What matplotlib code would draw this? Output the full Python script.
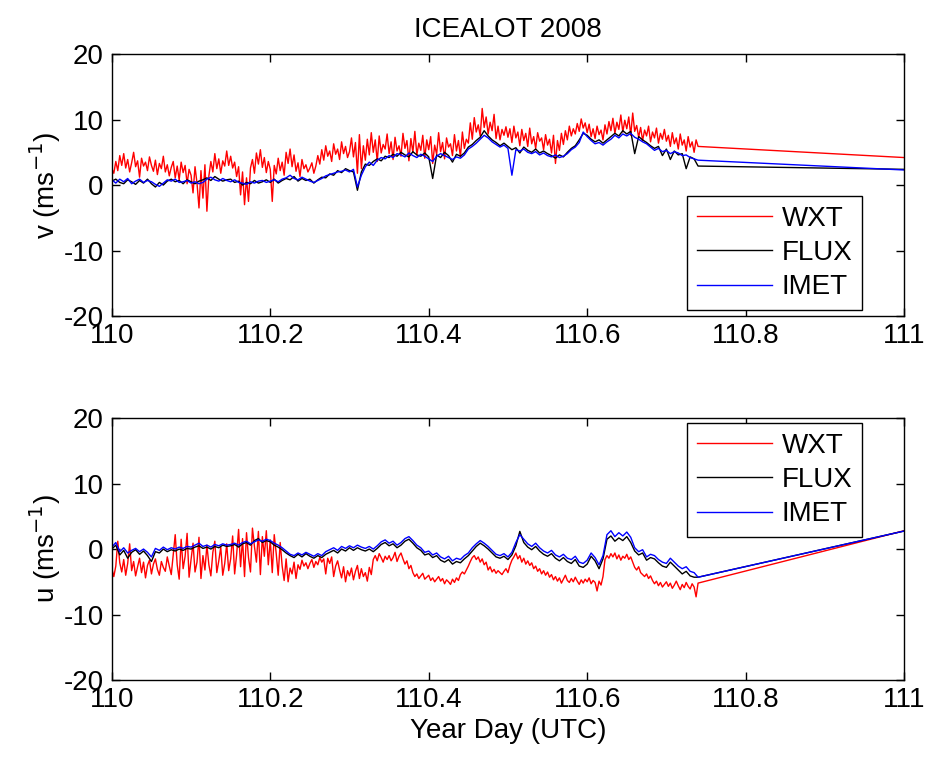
import numpy as np
import matplotlib
matplotlib.use("Agg")
import matplotlib.pyplot as plt

plt.rcParams['font.family'] = ['Liberation Sans', 'DejaVu Sans']
plt.rcParams['axes.unicode_minus'] = False

# time range of the measured record (year day), the record ends at 110.74
t_start = 110.0
t_end = 110.74
t_last = 111.0

# ---- upper panel: v (m/s) ----
v_wxt = [
    2.5, 1.8, 3.6, 2.2, 4.5, 3.0, 4.8, 2.6, 3.9, 2.0, 3.4, 5.0, 2.8, 3.7, 1.2, 4.1, 2.9, 3.5, 2.2, 4.3,
    3.0, 2.1, 3.8, 1.6, 3.3, 2.5, 4.4, 2.0, 3.1, 1.4, 2.7, 3.6, 1.1, 2.9, 0.8, 3.5, 1.9, 3.0, 0.2, 2.4,
    1.5, -1.2, 2.8, 0.3, -3.5, 2.2, -2.0, 3.1, -4.0, 1.4, 3.6, 2.0, 4.8, 2.5, 4.0, 1.8, 3.7, 2.9, 5.2, 3.0,
    4.4, 2.6, 3.5, 1.3, 2.8, -1.5, 2.0, -3.0, 1.1, -2.5, 2.6, 3.9, 1.8, 4.9, 3.2, 5.4, 2.7, 4.2, 1.9, 3.6,
    2.4, -2.5, 3.0, 1.7, 4.1, 2.2, 3.5, 1.5, 5.0, 3.3, 5.5, 2.8, 4.6, 2.1, 3.4, 1.3, 3.9, 2.5, 3.1, 2.0,
    2.6, 3.4, 1.8, 2.9, 4.5, 3.2, 5.4, 3.8, 6.0, 4.4, 5.2, 3.6, 6.3, 4.7, 5.5, 3.9, 6.6, 4.8, 5.9, 4.2,
    5.1, 7.2, 4.3, 6.5, 1.8, 7.7, 2.5, 6.0, 3.8, 7.0, 4.6, 8.0, 5.0, 6.9, 3.6, 7.5, 4.9, 6.2, 5.5, 7.8,
    4.8, 6.6, 3.9, 7.3, 5.2, 6.0, 4.4, 7.9, 5.6, 6.8, 3.7, 7.1, 5.0, 8.2, 4.6, 6.4, 5.3, 7.6, 4.1, 6.9,
    5.4, 7.4, 3.3, 6.1, 4.7, 8.0, 5.1, 6.5, 4.0, 7.2, 5.8, 6.3, 4.5, 7.7, 5.2, 6.8, 4.3, 8.1, 5.6, 7.0,
    6.4, 9.5, 7.0, 10.3, 8.1, 9.2, 7.5, 11.7, 8.8, 10.4, 7.8, 9.6, 8.3, 10.8, 7.1, 9.0, 6.9, 8.5, 7.6, 8.9,
    7.3, 8.6, 6.5, 9.0, 7.2, 8.1, 6.0, 8.5, 6.8, 7.9, 5.9, 8.7, 6.3, 7.4, 5.6, 8.0, 6.7, 7.2, 5.4, 7.7,
    6.1, 7.0, 4.9, 7.6, 3.3, 6.8, 5.3, 7.9, 6.2, 8.3, 6.9, 9.0, 7.5, 8.6, 7.8, 9.4, 8.2, 10.1, 8.7, 9.5,
    8.0, 9.3, 7.4, 8.6, 7.1, 9.0, 7.7, 8.4, 6.9, 9.2, 7.8, 9.7, 8.3, 10.2, 7.9, 9.6, 8.5, 10.7, 8.1, 9.9,
    8.6, 10.4, 7.6, 11.0, 8.2, 9.1, 7.3, 8.8, 6.8, 8.4, 7.5, 9.0, 6.6, 8.1, 7.2, 8.7, 6.4, 7.9, 7.0, 8.5,
    6.7, 7.6, 5.9, 8.0, 6.3, 7.2, 5.5, 7.8, 6.1, 6.9, 5.2, 7.4, 5.8, 6.6, 5.0, 6.9, 5.9,
]
v_flux = [
    0.6, 0.9, 0.4, 0.2, 0.8, 0.5, 0.1, 0.7, 0.3, 0.9,
    0.2, -0.3, 0.4, 0.0, 0.6, 0.9, 0.5, 0.7, 0.2, 0.8,
    0.5, 0.2, 0.6, 0.8, 1.1, 0.7, 1.3, 0.9, 0.6, 0.8,
    0.9, 0.4, 0.6, 0.0, 0.4, 0.2, 0.7, 0.3, 0.5, 0.8,
    0.4, 0.9, 0.3, 0.7, 1.0, 0.8, 1.3, 0.6, 1.0, 0.7,
    0.9, 0.3, 0.8, 1.2, 1.1, 1.7, 1.5, 2.2, 1.9, 2.5,
    2.2, 2.0, -0.8, 2.0, 3.2, 3.0, 3.6, 4.0, 3.7, 4.4,
    4.2, 4.7, 4.4, 5.0, 4.6, 4.3, 5.1, 4.6, 4.4, 4.9,
    4.3, 1.0, 4.6, 4.2, 5.0, 4.5, 3.5, 4.7, 4.4, 4.9,
    5.8, 6.2, 6.8, 7.3, 8.3, 7.5, 6.9, 6.5, 6.0, 6.4,
    5.9, 5.4, 5.7, 4.9, 5.8, 5.3, 5.0, 5.5, 4.9, 5.2,
    4.8, 4.5, 4.1, 4.6, 4.3, 5.0, 5.6, 6.0, 6.9, 7.9,
    7.6, 7.0, 6.6, 6.9, 6.4, 6.9, 7.4, 7.9, 7.5, 8.3,
    7.8, 8.2, 4.8, 7.4, 6.9, 6.5, 6.0, 5.6, 5.9, 4.5,
    5.5, 3.9, 5.2, 4.6, 4.8, 2.5, 4.3, 4.0, 2.9,
]
v_imet = [
    0.8, 0.3, 0.9, 0.5, 1.0, 0.2, 0.6, 0.9, 0.4, 0.7,
    0.5, 0.1, -0.2, 0.3, 0.8, 0.6, 0.9, 0.4, 0.5, 0.7,
    0.3, 0.5, 0.2, 0.4, 0.9, 1.2, 0.8, 0.6, 1.0, 0.7,
    0.5, 0.8, 0.4, 0.3, 0.1, 0.5, 0.3, 0.6, 0.7, 0.4,
    0.6, 0.8, 0.5, 0.9, 1.1, 1.5, 1.0, 0.8, 1.2, 0.9,
    0.6, 0.4, 0.7, 1.0, 1.4, 1.6, 1.8, 2.0, 2.1, 2.3,
    2.0, 2.4, -0.3, 1.5, 2.8, 3.5, 3.0, 3.8, 4.2, 4.0,
    4.5, 4.2, 4.8, 4.6, 4.3, 4.9, 4.5, 4.2, 4.7, 4.4,
    4.0, 3.6, 4.4, 4.8, 4.5, 4.2, 3.9, 4.3, 4.1, 4.6,
    5.5, 5.9, 6.4, 7.0, 7.6, 7.2, 6.6, 6.2, 5.8, 6.1,
    5.6, 1.5, 5.4, 5.2, 5.5, 5.0, 4.8, 5.1, 4.6, 4.9,
    4.5, 4.3, 4.6, 4.2, 4.4, 4.8, 5.4, 5.8, 6.5, 8.1,
    7.4, 6.8, 6.3, 6.5, 6.1, 6.6, 7.0, 7.6, 7.2, 7.8,
    7.5, 7.9, 7.3, 7.0, 6.6, 6.3, 5.8, 5.3, 5.6, 5.1,
    5.3, 4.8, 5.1, 4.9, 4.5, 4.6, 4.2, 4.0, 3.8,
]
# last samples at day 111
v_end = {'WXT': 4.2, 'FLUX': 2.4, 'IMET': 2.3}

# ---- lower panel: u (m/s) ----
u_wxt = [
    -3.0, -4.2, -2.6, 1.2, -2.1, -3.5, -1.6, -4.0, -2.2, 0.8, -3.3, -1.9, -4.1, -2.7, -1.4, -3.6, -2.0, -4.4, -2.5, -1.7,
    -3.8, -2.3, -1.5, -3.1, -4.0, -1.9, -2.8, -3.4, -1.2, -2.6, -3.9, -0.8, 2.2, -2.4, -4.6, 1.5, -3.0, -1.1, 2.4, -4.3,
    -1.6, 0.9, -3.5, -2.0, 1.8, -4.5, -1.0, -3.2, 0.6, -2.4, -4.1, -0.5, 1.2, -3.6, -1.8, 0.3, -4.0, -2.2, 0.8, -3.3,
    -1.5, 2.0, -3.8, -0.9, 3.0, -2.7, 1.6, -4.2, 2.5, -1.3, -3.5, 3.2, 0.4, -2.0, 2.7, -3.9, 1.9, -1.1, 2.8, -2.4,
    1.4, -3.6, 2.2, -0.7, -4.0, 1.0, -2.6, -4.8, -1.5, -5.0, -2.9, -3.8, -2.0, -4.5, -2.4, -3.1, -1.7, -2.6, -2.1, -3.0,
    -2.2, -1.6, -2.8, -1.9, -2.4, -1.3, -2.0, -1.5, -3.8, -1.4, -2.2, -1.2, -4.2, -2.6, -1.8, -3.2, -4.4, -2.7, -5.0, -3.3,
    -4.1, -2.9, -4.7, -3.4, -2.5, -4.5, -3.0, -4.2, -3.6, -4.9, -2.8, -3.9, -1.6, -1.0, -1.8, -0.7, -1.3, -2.0, -1.1, -1.6,
    -1.0, -1.8, -1.3, -0.5, -1.9, -1.1, -0.6, -1.5, -2.3, -1.8, -3.0, -2.5, -3.6, -4.2, -3.8, -4.5, -4.1, -3.7, -4.6, -4.3,
    -4.0, -4.8, -4.4, -5.0, -4.6, -4.2, -4.9, -4.5, -5.3, -4.7, -5.0, -5.4, -4.6, -5.1, -4.4, -4.8, -3.9, -3.5, -3.8, -3.2,
    -2.6, -1.9, -1.3, -1.0, -1.6, -1.2, -2.0, -1.5, -2.4, -2.0, -3.2, -2.7, -3.5, -3.1, -3.7, -3.3, -3.6, -3.9, -3.4, -3.0,
    -3.6, -2.5, -1.7, -1.2, -0.6, -1.5, -1.0, -2.0, -1.4, -2.3, -1.8, -2.5, -2.1, -3.0, -2.6, -3.4, -3.0, -3.8, -3.3, -4.0,
    -3.5, -4.3, -3.9, -4.7, -4.2, -4.9, -4.4, -5.2, -4.6, -4.0, -4.8, -5.1, -4.5, -5.0, -4.3, -4.9, -5.4, -4.7, -5.2, -4.6,
    -5.0, -4.4, -5.3, -4.8, -5.1, -6.4, -4.9, -5.5, -4.2, -1.6, -1.0, -1.4, -0.7, -1.2, -0.6, -1.5, -0.9, -1.7, -1.1, -1.4,
    -0.8, -1.6, -1.2, -2.0, -2.8, -3.2, -2.7, -3.6, -3.9, -4.2, -3.8, -4.5, -4.1, -4.8, -5.3, -4.9, -5.6, -5.1, -5.8, -5.4,
    -5.0, -5.7, -5.2, -6.0, -5.5, -4.9, -5.6, -6.2, -5.4, -5.9, -5.1, -5.7, -6.1, -5.3, -5.8, -7.3, -5.2,
]
u_flux = [
    0.0, 0.6, -0.9, -0.2, -1.4, -0.5, -0.1, -0.8, -0.3, -1.0,
    -1.9, -0.4, -0.6, 0.0, -0.4, -0.1, -0.3, 0.0, -0.2, 0.1,
    0.0, 0.3, 0.5, 0.1, 0.3, 0.0, 0.4, 0.2, 0.6, 0.4,
    0.5, 0.7, 0.3, 0.8, 1.0, 0.6, 1.3, 1.6, 1.0, 1.3,
    1.1, 0.6, 0.3, -0.1, -0.6, -1.0, -1.3, -0.8, -1.2, -0.7,
    -1.1, -1.4, -1.0, -1.3, -0.8, -0.5, -0.2, -0.6, 0.0, -0.3,
    0.2, -0.2, 0.2, -0.1, -0.3, 0.0, -0.4, 0.1, 0.7, 1.0,
    0.5, 0.8, 0.2, 0.6, 1.2, 1.5, 0.9, 0.2, -0.2, -0.9,
    -0.7, -1.3, -1.0, -1.7, -2.0, -1.6, -2.3, -1.9, -2.1, -1.5,
    -1.0, -0.3, 0.4, 0.9, 0.5, 0.0, -0.6, -1.2, -1.4, -1.1,
    -1.6, -0.9, 0.5, 2.7, 1.0, 0.3, -0.1, 0.4, -0.3, -0.8,
    -1.1, -0.7, -1.4, -1.8, -1.3, -1.9, -2.2, -1.6, -2.6, -2.8,
    -2.3, -1.1, -1.8, -3.0, -1.5, 1.5, 2.0, 1.2, 1.7, 1.3,
    1.9, 1.0, -0.3, -0.9, -0.6, -1.7, -1.3, -1.5, -2.1, -2.6,
    -2.8, -2.0, -2.6, -3.2, -3.8, -3.4, -4.1, -4.3, -4.3,
]
u_imet = [
    0.3, 1.0, -0.4, 0.2, -0.6, -0.2, 0.1, -0.4, 0.0, -0.5,
    -1.2, 0.1, -0.2, 0.3, -0.1, 0.2, 0.0, 0.3, 0.1, 0.4,
    0.3, 0.6, 0.9, 0.4, 0.6, 0.3, 0.7, 0.5, 0.8, 0.6,
    0.7, 0.9, 0.6, 1.0, 1.2, 0.8, 1.1, 1.4, 1.2, 1.5,
    1.3, 0.9, 0.6, 0.2, -0.3, -0.8, -1.0, -0.6, -0.9, -0.5,
    -0.8, -1.1, -0.7, -1.0, -0.4, -0.1, 0.2, -0.2, 0.4, 0.1,
    0.5, 0.2, 0.6, 0.3, 0.1, 0.4, 0.0, 0.5, 1.1, 1.4,
    0.9, 1.2, 0.6, 1.0, 1.6, 1.9, 1.3, 0.6, 0.2, -0.5,
    -0.3, -0.9, -0.6, -1.2, -1.5, -1.1, -1.8, -1.4, -1.6, -1.0,
    -0.6, 0.2, 0.8, 1.3, 0.9, 0.4, -0.2, -0.8, -1.0, -0.7,
    -1.2, -0.5, 1.0, 2.2, 1.5, 0.8, 0.4, 0.9, 0.2, -0.3,
    -0.6, -0.2, -0.9, -1.2, -0.8, -1.4, -1.6, -1.1, -2.0, -2.2,
    -1.7, -0.6, -1.3, -2.4, -1.0, 2.2, 2.8, 1.9, 2.5, 2.0,
    2.6, 1.8, 0.2, -0.4, -0.1, -1.2, -0.8, -1.0, -1.6, -2.0,
    -2.2, -1.4, -2.0, -2.6, -3.0, -2.7, -3.4, -3.6, -4.3,
]
u_end = {'WXT': 2.8, 'FLUX': 2.75, 'IMET': 2.75}

names = ['WXT', 'FLUX', 'IMET']
colors = {'WXT': 'red', 'FLUX': 'black', 'IMET': 'blue'}


def series(vals, end_val):
    t = np.linspace(t_start, t_end, len(vals))
    return np.append(t, t_last), np.append(np.array(vals), end_val)


fig = plt.figure(figsize=(9.32, 7.59), dpi=100)
ax1 = fig.add_axes([0.120, 0.5837, 0.850, 0.345])
ax2 = fig.add_axes([0.120, 0.1041, 0.850, 0.345])

fs = 20

for ax, data, ends, ylab in [
    (ax1, {'WXT': v_wxt, 'FLUX': v_flux, 'IMET': v_imet}, v_end, 'v (ms$^{-1}$)'),
    (ax2, {'WXT': u_wxt, 'FLUX': u_flux, 'IMET': u_imet}, u_end, 'u (ms$^{-1}$)'),
]:
    for n in names:
        x, y = series(data[n], ends[n])
        ax.plot(x, y, color=colors[n], lw=1.0, label=n)
    ax.set_xlim(110, 111)
    ax.set_ylim(-20, 20)
    ax.set_xticks([110, 110.2, 110.4, 110.6, 110.8, 111])
    ax.set_xticklabels(['110', '110.2', '110.4', '110.6', '110.8', '111'])
    ax.set_yticks([-20, -10, 0, 10, 20])
    ax.tick_params(direction='in', length=6, width=1, top=True, right=True,
                   labelsize=fs)
    ax.tick_params(axis='x', pad=5)
    ax.tick_params(axis='y', pad=6)
    for s in ax.spines.values():
        s.set_linewidth(1)
    ax.set_ylabel(ylab, fontsize=fs, labelpad=0)

leg_kw = dict(fontsize=fs, frameon=True, fancybox=False, framealpha=1,
              edgecolor='black', handlelength=2.7, handletextpad=0.35,
              labelspacing=0.3, borderaxespad=0, borderpad=0.35)
l1 = ax1.legend(loc='lower right', bbox_to_anchor=(0.947, 0.023), **leg_kw)
l2 = ax2.legend(loc='upper right', bbox_to_anchor=(0.947, 0.981), **leg_kw)
for lg in (l1, l2):
    lg.get_frame().set_linewidth(1)

ax1.set_title('ICEALOT 2008', fontsize=fs, pad=12)
ax2.set_xlabel('Year Day (UTC)', fontsize=fs, labelpad=4)

fig.savefig('out.png', dpi=100, facecolor='white')
